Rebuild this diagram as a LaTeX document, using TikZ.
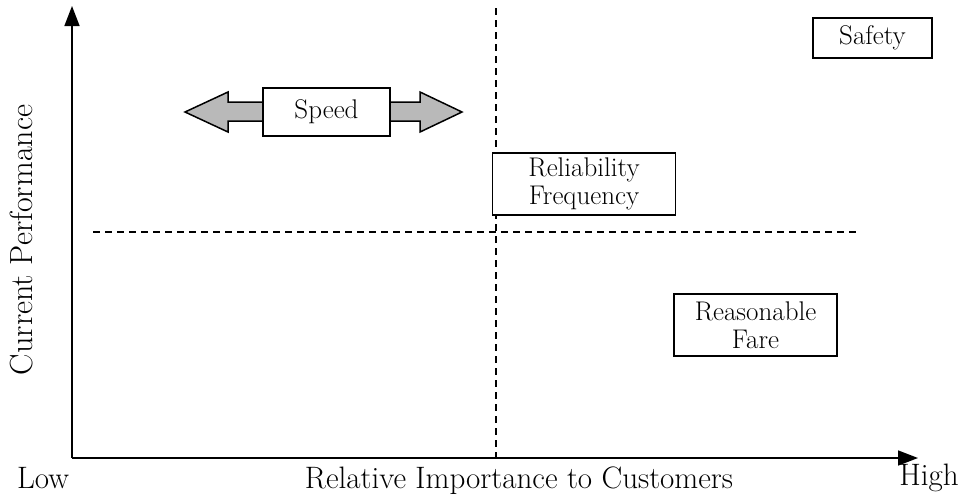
\documentclass[tikz,border=0pt]{standalone}
\usetikzlibrary{arrows.meta}
\begin{document}
\begin{tikzpicture}[x=1pt,y=-1pt,
  lbl/.style={font=\fontsize{31}{35}\selectfont,inner sep=0pt},
  boxnode/.style={draw,line width=1.6pt,fill=white,align=center,inner sep=0pt,font=\fontsize{27}{31}\selectfont},
  axis/.style={line width=1.5pt,-{Triangle[length=20pt,width=15pt]}},
  guide/.style={line width=1.5pt,dash pattern=on 7pt off 5pt},
  fat/.style={draw,line width=1.5pt,fill=gray!55,line join=miter}]
\useasboundingbox (0,0) rectangle (958,496);
\coordinate (O) at (72,458);
\coordinate (ytop) at (72,6);
\coordinate (xend) at (918,458);
\coordinate (vtop) at (496,8);
\coordinate (vbot) at (496,458);
\coordinate (hl) at (93,232);
\coordinate (hr) at (860,232);
\draw[guide] (vtop) -- (vbot);
\draw[guide] (hl) -- (hr);
\draw[axis] (O) -- (ytop);
\draw[axis] (O) -- (xend);
% Speed arrows
\draw[fat] (265,102) -- (228,102) -- (228,92) -- (185,112) -- (228,132) -- (228,121) -- (265,121) -- cycle;
\draw[fat] (388,102) -- (420,102) -- (420,92) -- (462,112) -- (420,132) -- (420,121) -- (388,121) -- cycle;
\node[boxnode,minimum width=127pt,minimum height=48pt] (speed) at (326.5,112) {Speed};
\node[boxnode,minimum width=119pt,minimum height=40pt] (safety) at (872.5,38) {Safety};
\node[boxnode,minimum width=183pt,minimum height=62pt] (rel) at (584,184) {Reliability\\[-3pt]Frequency};
\node[boxnode,minimum width=163pt,minimum height=62pt] (fare) at (755.5,325) {Reasonable\\[-3pt]Fare};
\node[lbl] (low) at (43,478) {Low};
\node[lbl] (rit) at (519,481) {Relative Importance to Customers};
\node[lbl] (high) at (929,478) {High};
\node[lbl,rotate=90,font=\fontsize{32}{36}\selectfont] (cp) at (22,240) {Current Performance};
\end{tikzpicture}
\end{document}
